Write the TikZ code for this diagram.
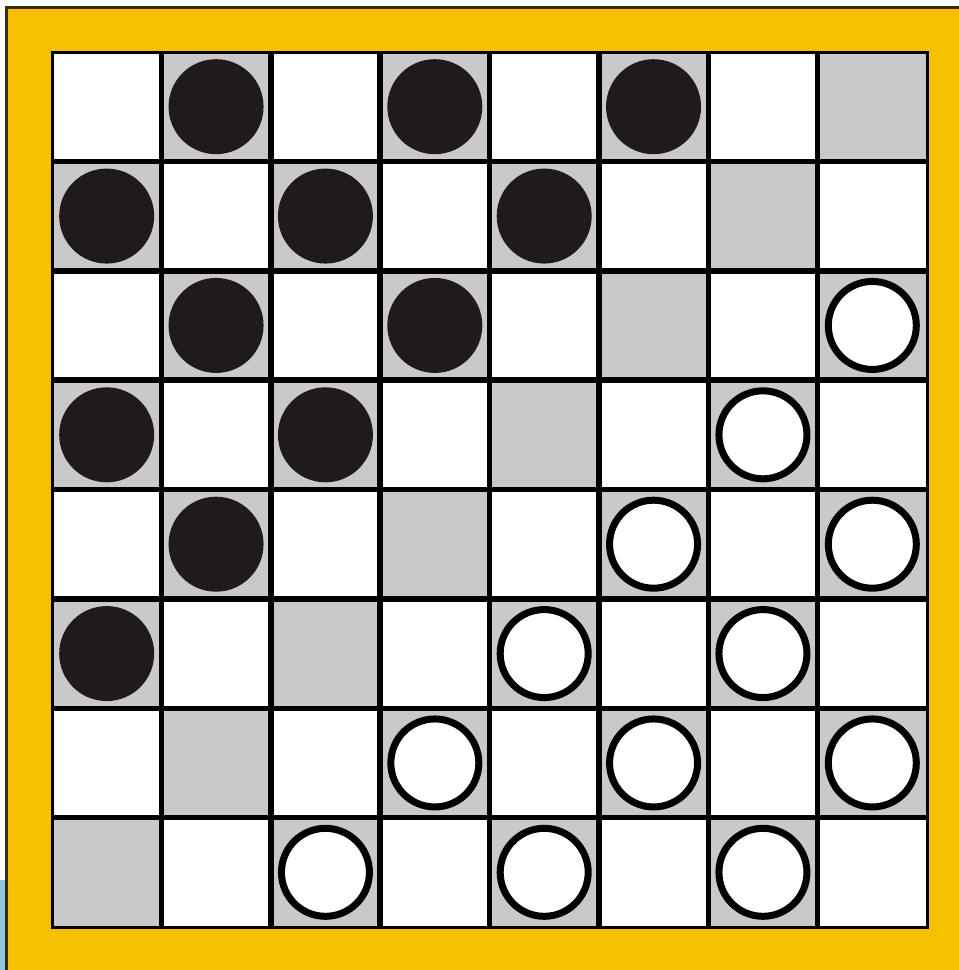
\documentclass[tikz,border=0pt]{standalone}
\definecolor{frameyellow}{HTML}{F6C000}
\definecolor{framedark}{HTML}{3A2A10}
\definecolor{sqgray}{HTML}{C9C9C9}
\definecolor{piecedark}{HTML}{211A1A}
\definecolor{bgblue}{HTML}{8FC3E6}
\tikzset{
  darksq/.style={fill=sqgray, draw=none},
  blackpiece/.style={circle, fill=piecedark, draw=none, minimum size=95pt, inner sep=0pt},
  whitepiece/.style={circle, fill=white, draw=black, line width=7pt, minimum size=88pt, inner sep=0pt},
}
\begin{document}
\begin{tikzpicture}[x=1pt,y=-1pt]
\useasboundingbox (0,0) rectangle (959,970);
\fill[white] (0,0) rectangle (959,970);
\fill[bgblue] (0,880) rectangle (8,970);
% frame
\fill[framedark] (5,6) rectangle (959,970);
\fill[frameyellow] (8,9) rectangle (959,970);
% board
\def\cs{109.375}
\fill[white] (52,52) rectangle (927,927);
\foreach \r in {0,...,7}{
  \foreach \c in {0,...,7}{
    \pgfmathtruncatemacro{\parity}{mod(\r+\c,2)}
    \ifnum\parity=1
      \fill[sqgray] ({52+\c*\cs},{52+\r*\cs}) rectangle ({52+(\c+1)*\cs},{52+(\r+1)*\cs});
    \fi
  }
}
\foreach \i in {1,...,7}{
  \draw[black, line width=5.5pt] ({52+\i*\cs},52) -- ({52+\i*\cs},927);
  \draw[black, line width=5.5pt] (52,{52+\i*\cs}) -- (927,{52+\i*\cs});
}
\draw[black, line width=3pt] (52,52) rectangle (927,927);
% black pieces
\foreach \r/\c [count=\n] in {0/1,0/3,0/5,1/0,1/2,1/4,2/1,2/3,3/0,3/2,4/1,5/0}{
  \node[blackpiece] (b\n) at ({52+(\c+0.5)*\cs},{52+(\r+0.5)*\cs}) {};
}
% white pieces
\foreach \r/\c [count=\n] in {2/7,3/6,4/5,4/7,5/4,5/6,6/3,6/5,6/7,7/2,7/4,7/6}{
  \node[whitepiece] (w\n) at ({52+(\c+0.5)*\cs},{52+(\r+0.5)*\cs}) {};
}
\end{tikzpicture}
\end{document}
